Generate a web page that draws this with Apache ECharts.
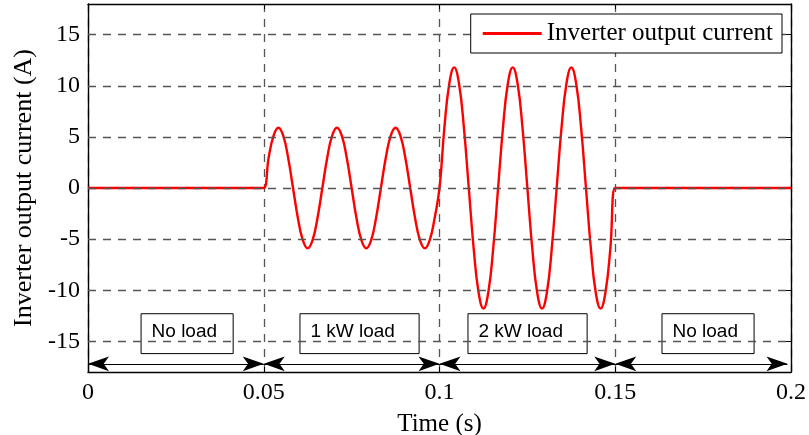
<!DOCTYPE html>
<html>
<head>
<meta charset="utf-8">
<script src="https://cdn.jsdelivr.net/npm/echarts@6/dist/echarts.min.js"></script>
<style>html,body{margin:0;padding:0;background:#fff}#c{width:809px;height:435px}</style>
</head>
<body>
<div id="c"></div>
<script>
// ---- data ----
const seriesName = 'Inverter output current';
const timeS = [
  0, 0.04861,
  0.05000, 0.05139, 0.05278, 0.05417, 0.05556, 0.05694, 0.05833, 0.05972, 0.06111, 0.06250, 0.06389, 0.06528,
  0.06667, 0.06806, 0.06944, 0.07083, 0.07222, 0.07361, 0.07500, 0.07639, 0.07778, 0.07917, 0.08056, 0.08194,
  0.08333, 0.08472, 0.08611, 0.08750, 0.08889, 0.09028, 0.09167, 0.09306, 0.09444, 0.09583, 0.09722, 0.09861,
  0.10000, 0.10139, 0.10278, 0.10417, 0.10556, 0.10694, 0.10833, 0.10972, 0.11111, 0.11250, 0.11389, 0.11528,
  0.11667, 0.11806, 0.11944, 0.12083, 0.12222, 0.12361, 0.12500, 0.12639, 0.12778, 0.12917, 0.13056, 0.13194,
  0.13333, 0.13472, 0.13611, 0.13750, 0.13889, 0.14028, 0.14167, 0.14306, 0.14444, 0.14583, 0.14722, 0.14861,
  0.15000, 0.15139, 0.2
];
const currentA = [
  0, 0,
  0, 2.95, 5.1, 5.9, 5.1, 2.95, 0, -2.95, -5.1, -5.9, -5.1, -2.95,
  0, 2.95, 5.1, 5.9, 5.1, 2.95, 0, -2.95, -5.1, -5.9, -5.1, -2.95,
  0, 2.95, 5.1, 5.9, 5.1, 2.95, 0, -2.95, -5.1, -5.9, -5.1, -2.95,
  0, 5.9, 10.2, 11.8, 10.2, 5.9, 0, -5.9, -10.2, -11.8, -10.2, -5.9,
  0, 5.9, 10.2, 11.8, 10.2, 5.9, 0, -5.9, -10.2, -11.8, -10.2, -5.9,
  0, 5.9, 10.2, 11.8, 10.2, 5.9, 0, -5.9, -10.2, -11.8, -10.2, -5.9,
  0, 0, 0
];
const yTicks = [-15, -10, -5, 0, 5, 10, 15];
const regionStart = [0, 0.05, 0.1, 0.15];
const regionEnd = [0.05, 0.1, 0.15, 0.199];
const regionLabels = ['No load', '1 kW load', '2 kW load', 'No load'];
const boxStart = [0.0151, 0.0603, 0.1081, 0.1633];
const boxEnd = [0.0413, 0.0942, 0.1420, 0.1895];
const boxTop = -12.3, boxBottom = -16.2, arrowY = -17.2;

// ---- chart ----
const serif = 'Liberation Serif';
const sans = 'Liberation Sans';
const chart = echarts.init(document.getElementById('c'), null, {renderer: 'canvas'});
const pts = timeS.map((t, i) => [t, currentA[i]]);
const axisLine = {show: true, onZero: false, lineStyle: {color: '#000', width: 1.4}};
const tick = {show: true, inside: true, length: 5, lineStyle: {color: '#000', width: 1}};
const gridDash = {color: '#555', width: 1.3, type: [8, 7]};

chart.setOption({
  animation: false,
  backgroundColor: '#fff',
  grid: {left: 88, right: 18, top: 4, bottom: 63, containLabel: false, outerBoundsMode: 'none'},
  legend: {
    data: [seriesName], right: 27, top: 14, z: 20, icon: 'rect', itemWidth: 59, itemHeight: 3,
    borderColor: '#000', borderWidth: 1, borderRadius: 0, backgroundColor: '#fff',
    padding: [7, 9, 7, 12], itemGap: 0,
    textStyle: {fontFamily: serif, fontSize: 25, color: '#000', padding: [0, 0, 0, 0]}
  },
  xAxis: [{
    type: 'value', min: 0, max: 0.2, interval: 0.05, position: 'bottom',
    axisLine: axisLine, axisTick: tick,
    axisLabel: {fontFamily: serif, fontSize: 24, color: '#000', margin: 9},
    splitLine: {show: true, lineStyle: gridDash},
    name: 'Time (s)', nameLocation: 'middle', nameGap: 40,
    nameTextStyle: {fontFamily: serif, fontSize: 25, color: '#000'}
  }, {
    type: 'value', min: 0, max: 0.2, interval: 0.05, position: 'top',
    axisLine: axisLine, axisTick: tick, axisLabel: {show: false}, splitLine: {show: false}
  }],
  yAxis: [{
    type: 'value', min: -18, max: 18, position: 'left',
    axisLine: axisLine,
    axisTick: Object.assign({customValues: yTicks}, tick),
    axisLabel: {customValues: yTicks, fontFamily: serif, fontSize: 24, color: '#000', margin: 8},
    splitLine: {show: false},
    name: 'Inverter output current (A)', nameLocation: 'middle', nameGap: 51,
    nameTextStyle: {fontFamily: serif, fontSize: 26, color: '#000'}
  }, {
    type: 'value', min: -18, max: 18, position: 'right',
    axisLine: axisLine,
    axisTick: Object.assign({customValues: yTicks}, tick),
    axisLabel: {show: false}, splitLine: {show: false}
  }],
  series: [{
    name: 'grid', type: 'line', data: [], z: 1, silent: true,
    markLine: {
      silent: true, symbol: 'none', animation: false,
      label: {show: false}, lineStyle: gridDash,
      data: yTicks.map(v => ({yAxis: v}))
    }
  }, {
    name: 'regions', type: 'line', data: [], z: 2, silent: true,
    markLine: {
      silent: true, symbol: ['arrow', 'arrow'], symbolSize: [11, 21], animation: false,
      label: {show: false}, lineStyle: {color: '#000', width: 1.2, type: 'solid'},
      itemStyle: {color: '#000'},
      data: regionStart.map((s, i) => [{coord: [s, arrowY]}, {coord: [regionEnd[i], arrowY]}])
    },
    markArea: {
      silent: true,
      itemStyle: {color: 'rgba(0,0,0,0)', borderColor: '#000', borderWidth: 1},
      label: {show: true, position: 'insideLeft', distance: 11, offset: [0, -2],
              fontFamily: sans, fontSize: 19, color: '#000'},
      data: boxStart.map((s, i) => [{name: regionLabels[i], coord: [s, boxTop]}, {coord: [boxEnd[i], boxBottom]}])
    }
  }, {
    name: seriesName, type: 'line', data: pts, z: 3, smooth: 0.45,
    showSymbol: false, symbol: 'none',
    lineStyle: {color: '#ff0000', width: 2.4}, itemStyle: {color: '#ff0000'}
  }]
});
</script>
</body>
</html>
